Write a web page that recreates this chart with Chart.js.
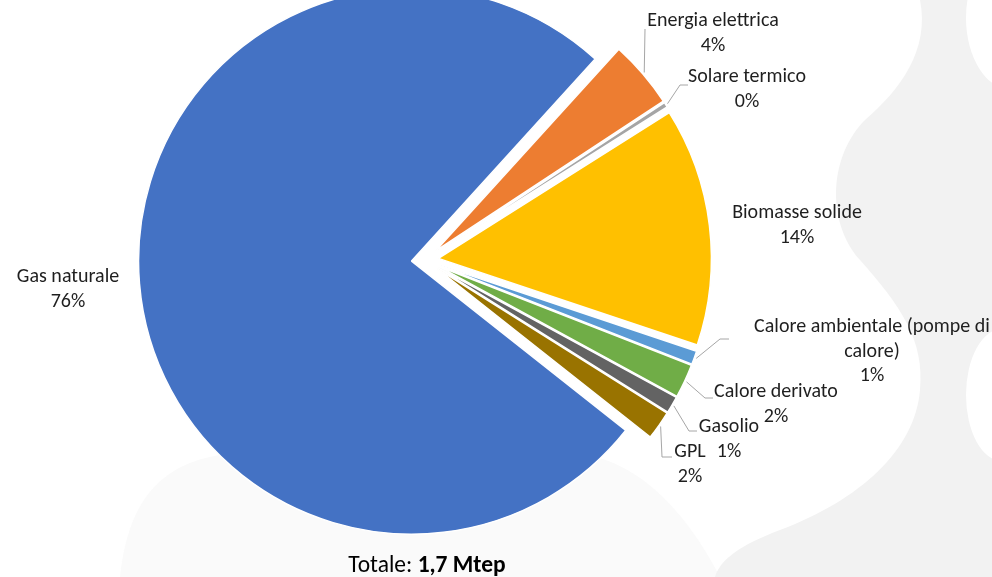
<!DOCTYPE html>
<html>
<head>
<meta charset="utf-8">
<script src="https://cdn.jsdelivr.net/npm/chart.js@4/dist/chart.umd.min.js"></script>
<style>
  html, body { margin: 0; padding: 0; background: #fff; }
  #wrap { position: relative; width: 992px; height: 577px; }
</style>
</head>
<body>
<div id="wrap"><canvas id="myChart"></canvas></div>
<script>
// quota % sui consumi finali (totale 1,7 Mtep)
const fonti = [
    "Gas naturale", "Energia elettrica", "Solare termico", "Biomasse solide",
    "Calore ambientale (pompe di calore)", "Calore derivato", "Gasolio", "GPL"
];
const quote = [76.1, 4.0, 0.3, 14.1, 0.8, 2.0, 1.0, 1.7];
const colori = [
    "#4472C4", "#ED7D31", "#A5A5A5", "#FFC000",
    "#5B9BD5", "#70AD47", "#636363", "#997300"
];
const totale = "1,7 Mtep";

const FONT = "Carlito, Calibri, Lato, sans-serif";
const esplosione = 13.5;

// posizione etichette: centro prima riga, gomito della linea guida
const posEtichette = [
    { righe: ["Gas naturale"], x: 68, y: 277 },
    { righe: ["Energia elettrica"], x: 713, y: 21, guida: [645, 29] },
    { righe: ["Solare termico"], x: 747, y: 77, guida: [680, 85, 688] },
    { righe: ["Biomasse solide"], x: 797, y: 213 },
    { righe: ["Calore ambientale (pompe di", "calore)"], x: 872, y: 327, guida: [720, 339, 729] },
    { righe: ["Calore derivato"], x: 776, y: 392, guida: [705, 398, 713] },
    { righe: ["Gasolio"], x: 729, y: 427, guida: [689, 431, 697] },
    { righe: ["GPL"], x: 690, y: 452, guida: [662, 457, 672] }
];

const sfondo = {
    id: "sfondo",
    beforeDraw(chart) {
        const c = chart.ctx;
        const w = chart.width, h = chart.height;
        c.save();
        c.fillStyle = "#fff";
        c.fillRect(0, 0, w, h);
        c.fillStyle = "#fafafa";
        c.beginPath();
        c.moveTo(120, h);
        c.bezierCurveTo(130, 480, 180, 452, 260, 452);
        c.lineTo(560, 452);
        c.bezierCurveTo(640, 452, 690, 520, 720, h);
        c.closePath();
        c.fill();
        c.fillStyle = "#f2f2f2";
        c.beginPath();
        c.moveTo(920, 0);
        c.bezierCurveTo(930, 50, 900, 90, 865, 120);
        c.bezierCurveTo(830, 155, 825, 220, 860, 260);
        c.bezierCurveTo(900, 305, 925, 340, 920, 390);
        c.bezierCurveTo(915, 450, 860, 500, 780, 530);
        c.bezierCurveTo(740, 545, 720, 560, 715, h);
        c.lineTo(w, h);
        c.lineTo(w, 0);
        c.closePath();
        c.fill();
        c.fillStyle = "#fff";
        c.beginPath();
        c.ellipse(1012, 18, 46, 72, 0, 0, Math.PI * 2);
        c.fill();
        c.beginPath();
        c.ellipse(1002, 395, 36, 66, 0, 0, Math.PI * 2);
        c.fill();
        c.restore();
    }
};

// tutte le fette leggermente esplose
const esplodi = {
    id: "esplodi",
    afterDatasetsUpdate(chart) {
        chart.getDatasetMeta(0).data.forEach(arc => {
            const mid = (arc.startAngle + arc.endAngle) / 2;
            arc.x += Math.cos(mid) * esplosione;
            arc.y += Math.sin(mid) * esplosione;
        });
    }
};

const etichette = {
    id: "etichette",
    afterDatasetsDraw(chart) {
        const c = chart.ctx;
        const arcs = chart.getDatasetMeta(0).data;
        const tot = quote.reduce((a, b) => a + b, 0);
        c.save();
        c.font = "20px " + FONT;
        c.textAlign = "center";
        c.textBaseline = "middle";
        arcs.forEach((arc, i) => {
            const p = posEtichette[i];
            const righe = p.righe.concat(Math.round(quote[i] / tot * 100) + "%");
            if (p.guida) {
                const mid = (arc.startAngle + arc.endAngle) / 2;
                const r = arc.outerRadius + 2;
                c.strokeStyle = "#a6a6a6";
                c.lineWidth = 1;
                c.beginPath();
                c.moveTo(arc.x + Math.cos(mid) * r, arc.y + Math.sin(mid) * r);
                c.lineTo(p.guida[0], p.guida[1]);
                if (p.guida[2]) c.lineTo(p.guida[2], p.guida[1]);
                c.stroke();
            }
            c.fillStyle = "#1f1f1f";
            righe.forEach((t, k) => c.fillText(t, p.x, p.y + k * 24.5));
        });

        // titolo in basso
        const a = "Totale: ";
        c.font = "23.5px " + FONT;
        const wa = c.measureText(a).width;
        c.font = "bold 23.5px " + FONT;
        const wb = c.measureText(totale).width;
        const x0 = 427 - (wa + wb) / 2;
        c.textAlign = "left";
        c.textBaseline = "alphabetic";
        c.fillStyle = "#000";
        c.font = "23.5px " + FONT;
        c.fillText(a, x0, 572);
        c.font = "bold 23.5px " + FONT;
        c.fillText(totale, x0 + wa, 572);
        c.restore();
    }
};

const ctx = document.getElementById("myChart").getContext("2d");
const myChart = new Chart(ctx, {
    type: "pie",
    data: {
        labels: fonti,
        datasets: [
            {
                data: quote,
                backgroundColor: colori,
                borderColor: "#fff",
                borderWidth: 1.5,
            },
        ],
    },
    options: {
        responsive: true,
        maintainAspectRatio: false,
        animation: false,
        events: [],
        rotation: 128.3,
        radius: 273,
        layout: {
            padding: { left: 0, right: 142, top: 0, bottom: 57 },
        },
        plugins: {
            legend: { display: false },
            tooltip: { enabled: false },
        },
    },
    plugins: [sfondo, esplodi, etichette],
});
</script>
</body>
</html>
